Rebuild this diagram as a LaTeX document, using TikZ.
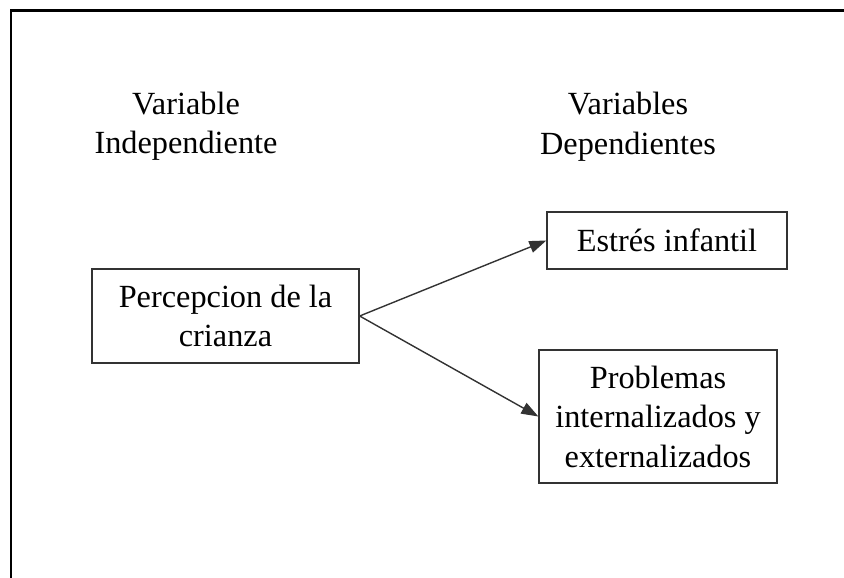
\documentclass[tikz,border=0pt]{standalone}
\usepackage{fontspec}
\setmainfont{Liberation Serif}
\usetikzlibrary{arrows.meta}
\definecolor{box.fg}{rgb}{0.2, 0.2, 0.2}

\begin{document}
\begin{tikzpicture}[x=1pt,y=-1pt]
  \tikzset{box/.append style={draw=box.fg, line width=1.3pt, align=center,
      inner sep = 0, font=\fontsize{32.3}{39.5}\selectfont}}
  \tikzset{lbl/.append style={align=center, inner sep = 0,
      font=\fontsize{32.3}{39.5}\selectfont}}
  \useasboundingbox (0,0) rectangle (844,578);

  \coordinate (fb) at (11,578);
  \coordinate (fc) at (11,10.5);
  \coordinate (fr) at (844,10.5);
  \draw[line width=2.6pt] (fb) -- (fc) -- (fr);

  \node[lbl] (indep) at (186,126) {Variable\\Independiente};
  \node[lbl] (dep) at (628,126.5) {Variables\\Dependientes};

  \node[box, minimum width=267pt, minimum height=94pt] (perc) at (225.5,316)
    {Percepcion de la\\crianza};
  \node[box, minimum width=240pt, minimum height=57pt] (estres) at (667,240.5)
    {Estrés infantil};
  \node[box, minimum width=238pt, minimum height=133pt] (prob) at (658,416.5)
    {Problemas\\internalizados y\\externalizados};

  \draw[line width=1.4pt, box.fg, -{Triangle[length=17pt, width=12pt]}]
    (perc.east) -- (estres.west);
  \draw[line width=1.4pt, box.fg, -{Triangle[length=17pt, width=12pt]}]
    (perc.east) -- (prob.west);
\end{tikzpicture}
\end{document}
